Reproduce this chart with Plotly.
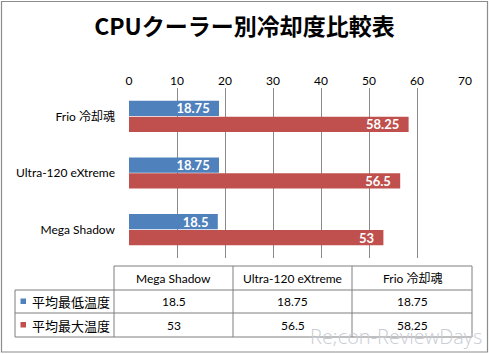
import plotly.graph_objects as go

categories = ["Mega Shadow", "Ultra-120 eXtreme", "Frio 冷却魂"]
series_names = ["平均最低温度", "平均最大温度"]
min_temp = [18.5, 18.75, 18.75]
max_temp = [53, 56.5, 58.25]
x_ticks = [0, 10, 20, 30, 40, 50, 60, 70]
colors = ["#4F81BD", "#C0504D"]

W, H = 489, 354
L, R, T, B = 129, 24, 88, 96
PW, PH = W - L - R, H - T - B

def px(x):
    return (x - L) / PW

def py(y):
    return (H - B - y) / PH

FONT = "Lato, 'Noto Sans CJK JP', sans-serif"

fig = go.Figure()
# red first so blue is drawn on top within each group
for name, vals, col in [(series_names[1], max_temp, colors[1]), (series_names[0], min_temp, colors[0])]:
    fig.add_trace(go.Bar(
        y=categories, x=vals, orientation="h", name=name,
        marker=dict(color=col, line=dict(width=0)),
        text=[f"{v:g}\u00a0\u00a0" for v in vals],
        textposition="inside", insidetextanchor="end", constraintext="none",
        textfont=dict(family=FONT, size=13, color="white", weight="bold"),
        cliponaxis=False, showlegend=False,
    ))

fig.update_layout(
    width=W, height=H,
    margin=dict(l=L, r=R, t=T, b=B),
    paper_bgcolor="white", plot_bgcolor="white",
    barmode="group", bargap=0.44, bargroupgap=0.04,
    font=dict(family=FONT, size=12, color="black"),
    title=dict(text="<b>CPUクーラー別冷却度比較表</b>", x=0.5, xanchor="center",
               y=1 - 27 / H, yanchor="middle",
               font=dict(family="'Noto Sans CJK JP', sans-serif", size=23, color="black")),
    xaxis=dict(side="top", range=[0, 70], tickvals=x_ticks, showgrid=True,
               gridcolor="#8a8a8a", gridwidth=1, zeroline=False, showline=False,
               ticks="", tickfont=dict(size=12), fixedrange=True),
    yaxis=dict(showgrid=False, zeroline=False, showline=False, ticks="",
               ticklabelstandoff=13, tickfont=dict(size=12)),
)

shapes = []
line = dict(color="#7f7f7f", width=1)
def hline(y, x0, x1):
    shapes.append(dict(type="line", xref="paper", yref="paper", x0=px(x0), x1=px(x1), y0=py(y), y1=py(y), line=line))
def vline(x, y0, y1):
    shapes.append(dict(type="line", xref="paper", yref="paper", x0=px(x), x1=px(x), y0=py(y0), y1=py(y1), line=line))

# data table
cols_x = [114, 233, 352, 472]
rows_y = [266, 290, 313, 337]
hline(rows_y[0], cols_x[0], cols_x[-1])
for y in rows_y[1:]:
    hline(y, 15, cols_x[-1])
vline(15, rows_y[1], rows_y[-1])
for x in cols_x:
    vline(x, rows_y[0], rows_y[-1])

# outer frame
shapes.append(dict(type="rect", xref="paper", yref="paper", x0=px(1.5), x1=px(487.5), y0=py(1.5), y1=py(352),
                   line=dict(color="#8c8c8c", width=1.2)))

annotations = []
for i, c in enumerate(categories):
    cx = (cols_x[i] + cols_x[i + 1]) / 2
    annotations.append(dict(text=c, x=px(cx), y=py((rows_y[0] + rows_y[1]) / 2), xref="paper", yref="paper",
                            showarrow=False, xanchor="center", yanchor="middle", font=dict(size=12)))
    for r, vals in enumerate([min_temp, max_temp]):
        annotations.append(dict(text=f"{vals[i]:g}", x=px(cx), y=py((rows_y[r + 1] + rows_y[r + 2]) / 2),
                                xref="paper", yref="paper", showarrow=False, xanchor="center",
                                yanchor="middle", font=dict(size=12)))
for r, (name, col) in enumerate(zip(series_names, colors)):
    yc = (rows_y[r + 1] + rows_y[r + 2]) / 2
    shapes.append(dict(type="rect", xref="paper", yref="paper", x0=px(20.5), x1=px(26), y0=py(yc - 3), y1=py(yc + 2.5),
                       fillcolor=col, line=dict(width=0)))
    annotations.append(dict(text=name, x=px(30), y=py(yc), xref="paper", yref="paper", showarrow=False,
                            xanchor="left", yanchor="middle",
                            font=dict(size=13, family="'Noto Sans CJK JP', sans-serif")))

# watermark
annotations.append(dict(text="Re;con-ReviewDays", x=px(483), y=py(351), xref="paper", yref="paper",
                        showarrow=False, xanchor="right", yanchor="bottom", borderpad=0,
                        font=dict(size=20, color="#c9ccd4", family="'Open Sans', sans-serif", weight=300)))

fig.update_layout(shapes=shapes, annotations=annotations)
fig.write_html("out.html")
